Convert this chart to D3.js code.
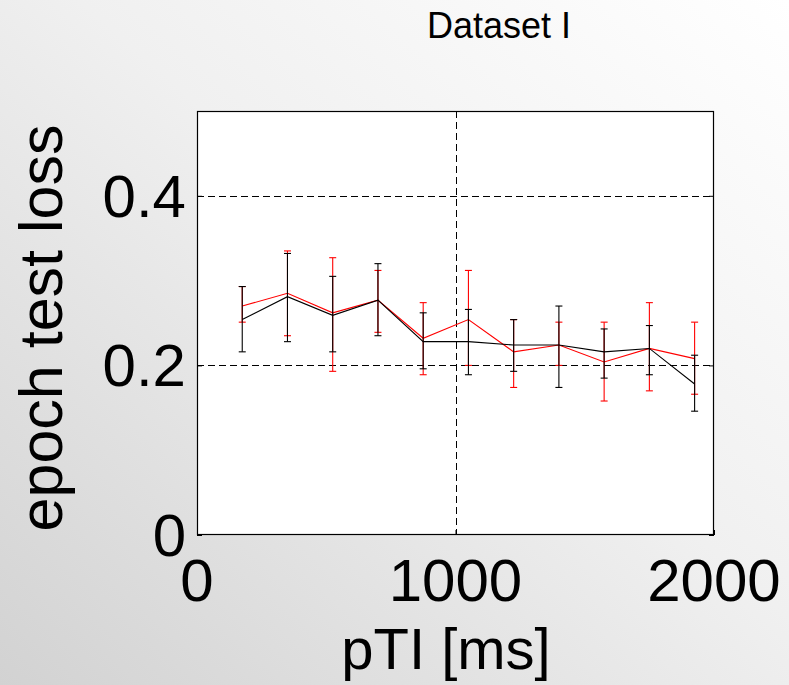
<!DOCTYPE html>
<html><head><meta charset="utf-8">
<script src="https://cdn.jsdelivr.net/npm/d3@7"></script>
<style>html,body{margin:0;padding:0;} svg{display:block;}</style>
</head><body>
<script>
const pti = [175, 350, 525, 700, 875, 1050, 1225, 1400, 1575, 1750, 1925];
const blackMean = [0.254, 0.281, 0.259, 0.277, 0.228, 0.228, 0.224, 0.224, 0.216, 0.220, 0.178];
const blackLow  = [0.216, 0.228, 0.216, 0.235, 0.196, 0.189, 0.193, 0.174, 0.185, 0.189, 0.146];
const blackHigh = [0.293, 0.332, 0.305, 0.320, 0.262, 0.266, 0.254, 0.270, 0.243, 0.247, 0.212];
const redMean = [0.270, 0.285, 0.262, 0.277, 0.232, 0.254, 0.216, 0.224, 0.204, 0.220, 0.208];
const redLow  = [0.251, 0.235, 0.193, 0.239, 0.189, 0.200, 0.174, 0.200, 0.158, 0.170, 0.166];
const redHigh = [0.293, 0.335, 0.327, 0.312, 0.274, 0.312, 0.254, 0.251, 0.251, 0.274, 0.251];
const xTicks = [0, 1000, 2000];
const yTicks = [0, 0.2, 0.4];
const xGrid = [1000];
const yGrid = [0.2, 0.4];
const titleText = "Dataset I";
const xLabel = "pTI [ms]";
const yLabel = "epoch test loss";

const W = 789, H = 685;
const L = 197, R = 714, T = 111, B = 535;
const svg = d3.select("body").append("svg").attr("width", W).attr("height", H);
const defs = svg.append("defs");
const g = defs.append("linearGradient").attr("id","bg").attr("x1","0").attr("y1","1").attr("x2","1").attr("y2","0");
g.append("stop").attr("offset","0").attr("stop-color","#d2d2d2");
g.append("stop").attr("offset","0.55").attr("stop-color","#f0f0f0");
g.append("stop").attr("offset","1").attr("stop-color","#ffffff");
svg.append("rect").attr("width",W).attr("height",H).attr("fill","url(#bg)");

const x = d3.scaleLinear().domain([0,2000]).range([L,R]);
const y = d3.scaleLinear().domain([0,0.5]).range([B,T]);
const font = "Liberation Sans, Arial, sans-serif";

svg.append("rect").attr("x",L).attr("y",T).attr("width",R-L).attr("height",B-T).attr("fill","#fff");

// grid
svg.selectAll(".gy").data(yGrid).enter().append("line")
  .attr("x1",L).attr("x2",R).attr("y1",d=>Math.round(y(d))+0.5).attr("y2",d=>Math.round(y(d))+0.5)
  .attr("stroke","#000").attr("stroke-width",1).attr("stroke-dasharray","7,4");
svg.selectAll(".gx").data(xGrid).enter().append("line")
  .attr("y1",T).attr("y2",B).attr("x1",d=>Math.round(x(d))+0.5).attr("x2",d=>Math.round(x(d))+0.5)
  .attr("stroke","#000").attr("stroke-width",1).attr("stroke-dasharray","7,4");

// axes with inward ticks
const ax = svg.append("g").attr("transform",`translate(0,${B})`)
  .call(d3.axisBottom(x).tickValues(xTicks).tickSize(-5).tickFormat(""));
const ay = svg.append("g").attr("transform",`translate(${L},0)`)
  .call(d3.axisLeft(y).tickValues(yTicks).tickSize(-5).tickFormat(""));
[ax, ay].forEach(a => { a.select(".domain").remove(); a.selectAll("line").attr("stroke","#000"); });
svg.append("g").attr("transform",`translate(${R},0)`)
  .call(d3.axisRight(y).tickValues(yTicks).tickSize(-5).tickFormat(""))
  .call(a => { a.select(".domain").remove(); a.selectAll("line").attr("stroke","#000"); });

function series(mean, lo, hi, color) {
  const line = d3.line().x((d,i)=>x(pti[i])).y(d=>y(d));
  svg.append("path").datum(mean).attr("d",line).attr("fill","none").attr("stroke",color).attr("stroke-width",1.1);
  const eb = svg.append("g");
  pti.forEach((p,i) => {
    const cx = x(p);
    eb.append("line").attr("x1",cx).attr("x2",cx).attr("y1",y(lo[i])).attr("y2",y(hi[i])).attr("stroke",color).attr("stroke-width",1.1);
    [lo[i], hi[i]].forEach(v => eb.append("line").attr("x1",cx-3.5).attr("x2",cx+3.5).attr("y1",y(v)).attr("y2",y(v)).attr("stroke",color).attr("stroke-width",1.1));
  });
}
series(redMean, redLow, redHigh, "#ff0000");
series(blackMean, blackLow, blackHigh, "#000000");

// box
svg.append("rect").attr("x",L+0.5).attr("y",T+0.5).attr("width",R-L-1).attr("height",B-T-1)
  .attr("fill","none").attr("stroke","#000").attr("stroke-width",1.2);

// tick labels
svg.selectAll(".xl").data(xTicks).enter().append("text")
  .attr("x",d=>x(d)).attr("y",601).attr("text-anchor","middle")
  .attr("font-family",font).attr("font-size",60).attr("fill","#000").text(d=>d3.format("d")(d));
svg.selectAll(".yl").data(yTicks).enter().append("text")
  .attr("x",186).attr("y",d=>y(d)+21).attr("text-anchor","end")
  .attr("font-family",font).attr("font-size",60).attr("fill","#000").text(d=>d===0?"0":d3.format(".1f")(d));

svg.append("text").attr("x",499).attr("y",38).attr("text-anchor","middle")
  .attr("font-family",font).attr("font-size",36).attr("fill","#000").text(titleText);
svg.append("text").attr("x",446).attr("y",669).attr("text-anchor","middle")
  .attr("font-family",font).attr("font-size",58).attr("fill","#000").text(xLabel);
svg.append("text").attr("transform","translate(62,328) rotate(-90)").attr("text-anchor","middle")
  .attr("font-family",font).attr("font-size",61).attr("fill","#000").text(yLabel);
</script>
</body></html>
